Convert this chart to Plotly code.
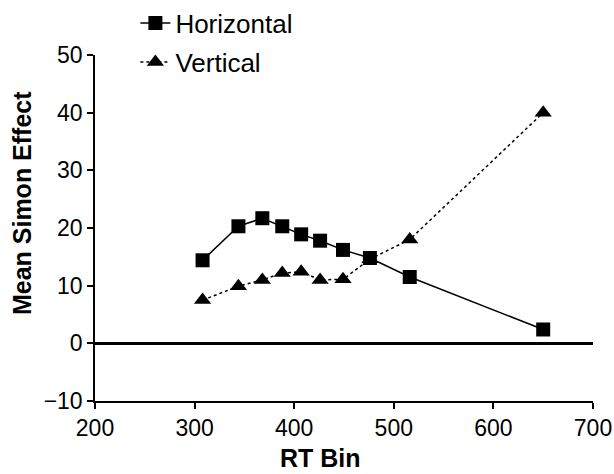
import plotly.graph_objects as go

rt_bins = [308, 344, 368, 388, 407, 426, 449, 476, 516, 650]
horizontal = [14.4, 20.3, 21.7, 20.3, 18.9, 17.8, 16.2, 14.8, 11.5, 2.4]
vertical = [7.5, 9.9, 11.0, 12.2, 12.4, 11.0, 11.1, 14.6, 18.0, 40.0]
x_ticks = [200, 300, 400, 500, 600, 700]
y_ticks = [-10, 0, 10, 20, 30, 40, 50]
x_title = "RT Bin"
y_title = "Mean Simon Effect"

FONT = "Liberation Sans, Arial, sans-serif"

fig = go.Figure()
fig.add_trace(go.Scatter(
    x=rt_bins, y=horizontal, name="Horizontal", mode="lines+markers",
    line=dict(color="black", width=1.5),
    marker=dict(symbol="square", size=14, color="black"),
    legend="legend", showlegend=True,
))
fig.add_trace(go.Scatter(
    x=rt_bins, y=vertical, name="Vertical", mode="lines+markers",
    line=dict(color="black", width=1.5, dash="3px,3px"),
    marker=dict(symbol="triangle-up", size=15, color="black"),
    legend="legend2", showlegend=True,
))

fig.update_layout(
    width=614, height=474,
    margin=dict(l=95, r=21, t=55, b=73, autoexpand=False),
    paper_bgcolor="white", plot_bgcolor="white",
    font=dict(family=FONT, size=23, color="black"),
    showlegend=True,
    legend=dict(xref="container", yref="container", x=0.2205, y=0.9515,
                xanchor="left", yanchor="middle",
                bgcolor="rgba(0,0,0,0)", font=dict(size=26), visible=True),
    legend2=dict(xref="container", yref="container", x=0.2205, y=0.869,
                 xanchor="left", yanchor="middle",
                 bgcolor="rgba(0,0,0,0)", font=dict(size=26), visible=True),
    xaxis=dict(range=[200, 700], tickvals=x_ticks, showgrid=False, zeroline=False,
               showline=True, linecolor="black", linewidth=1.5, automargin=False,
               ticks="outside", ticklen=6, tickwidth=1.5, tickcolor="black"),
    yaxis=dict(range=[-10, 50], tickvals=y_ticks, showgrid=False, automargin=False,
               zeroline=True, zerolinecolor="black", zerolinewidth=2.5,
               showline=True, linecolor="black", linewidth=1.5,
               ticks="outside", ticklen=6, tickwidth=1.5, tickcolor="black",
               tickformat="d"),
    annotations=[
        dict(text="<b>" + x_title + "</b>", xref="paper", yref="paper",
             x=0.452, y=-0.165, xanchor="center", yanchor="middle",
             showarrow=False, font=dict(size=25)),
        dict(text="<b>" + y_title + "</b>", xref="paper", yref="paper",
             x=-0.1466, y=0.572, xanchor="center", yanchor="middle",
             textangle=-90, showarrow=False, font=dict(size=25)),
    ],
)

fig.write_html("out.html", config={"displayModeBar": False},
               post_script="document.body.style.margin='0';")
